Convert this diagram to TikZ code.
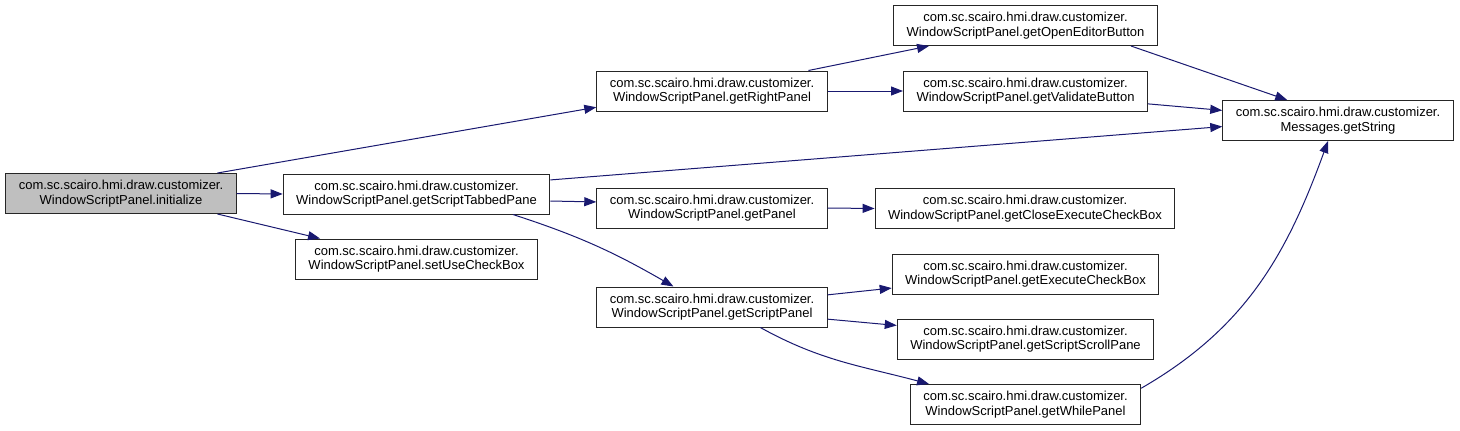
\documentclass[tikz,border=0pt]{standalone}
\usepackage{fontspec}
\setmainfont{Liberation Sans}
\usetikzlibrary{arrows.meta}
\definecolor{callblue}{HTML}{191970}

\begin{document}
\begin{tikzpicture}[
        x=1pt,y=-1pt,
        >={Triangle[length=12pt,width=9pt]},
        every node/.style={font=\fontsize{13}{14.5}\selectfont},
        fn/.style={draw=black!85,fill=white,line width=1pt,align=center,
            inner xsep=13pt,inner ysep=0pt,minimum height=40pt},
        current/.style={fn,fill=black!25},
        call/.style={->,draw=callblue,line width=1pt}
    ]

    \useasboundingbox (0,0) rectangle (1460,431);

    % Caller
    \node[current] (init) at (121,193.5)
        {com.sc.scairo.hmi.draw.customizer.\\WindowScriptPanel.initialize};

    % First level
    \node[fn] (rightpanel) at (712,91)
        {com.sc.scairo.hmi.draw.customizer.\\WindowScriptPanel.getRightPanel};
    \node[fn] (tabbedpane) at (416.5,194)
        {com.sc.scairo.hmi.draw.customizer.\\WindowScriptPanel.getScriptTabbedPane};
    \node[fn] (usecheck) at (416.5,259)
        {com.sc.scairo.hmi.draw.customizer.\\WindowScriptPanel.setUseCheckBox};

    % Second level
    \node[fn] (panel) at (712,208)
        {com.sc.scairo.hmi.draw.customizer.\\WindowScriptPanel.getPanel};
    \node[fn] (scriptpanel) at (712,307)
        {com.sc.scairo.hmi.draw.customizer.\\WindowScriptPanel.getScriptPanel};

    % Third level
    \node[fn] (openeditor) at (1025.5,25.5)
        {com.sc.scairo.hmi.draw.customizer.\\WindowScriptPanel.getOpenEditorButton};
    \node[fn] (validate) at (1025.5,91)
        {com.sc.scairo.hmi.draw.customizer.\\WindowScriptPanel.getValidateButton};
    \node[fn] (closeexec) at (1025,208.5)
        {com.sc.scairo.hmi.draw.customizer.\\WindowScriptPanel.getCloseExecuteCheckBox};
    \node[fn] (execcheck) at (1025.5,274)
        {com.sc.scairo.hmi.draw.customizer.\\WindowScriptPanel.getExecuteCheckBox};
    \node[fn] (scrollpane) at (1025.5,339)
        {com.sc.scairo.hmi.draw.customizer.\\WindowScriptPanel.getScriptScrollPane};
    \node[fn] (whilepanel) at (1025.5,404.5)
        {com.sc.scairo.hmi.draw.customizer.\\WindowScriptPanel.getWhilePanel};

    % Messages
    \node[fn] (getstring) at (1338,120.5)
        {com.sc.scairo.hmi.draw.customizer.\\Messages.getString};

    % Calls
    \draw[call] (init.12) -- (rightpanel.188);
    \draw[call] (init.east) -- (tabbedpane.west);
    \draw[call] (init.-12) -- (usecheck.168);

    \draw[call] (rightpanel.12) -- (openeditor.192);
    \draw[call] (rightpanel.east) -- (validate.west);

    \draw[call] (tabbedpane.6.5) -- (getstring.183);
    \draw[call] (tabbedpane.-3) -- (panel.177);
    \draw[call] (tabbedpane.-12) to[out=-18,in=150] (scriptpanel.152);

    \draw[call] (panel.east) -- (closeexec.west);

    \draw[call] (scriptpanel.6) -- (execcheck.186);
    \draw[call] (scriptpanel.-6) -- (scrollpane.174);
    \draw[call] (scriptpanel.-23.5) to[out=-29,in=165] (whilepanel.168);

    \draw[call] (openeditor.-11) -- (getstring.158);
    \draw[call] (validate.-6) -- (getstring.175);
    \draw[call] (whilepanel.8) to[out=30,in=-110] (getstring.-116);

    \end{tikzpicture}
\end{document}
